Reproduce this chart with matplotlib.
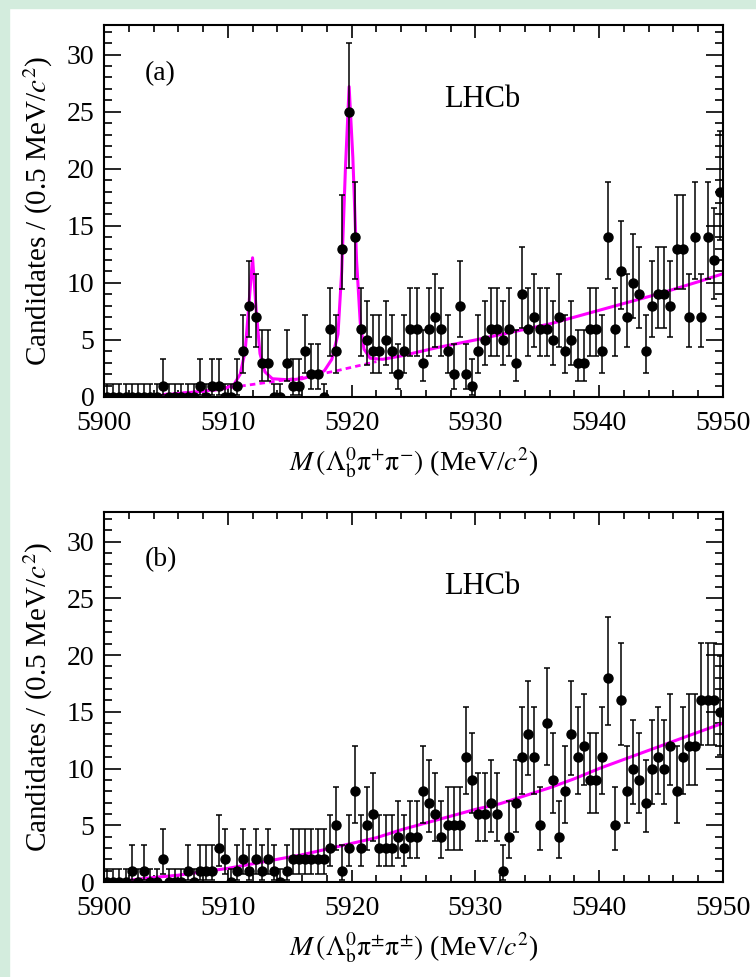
import numpy as np
import matplotlib
matplotlib.use('Agg')
import matplotlib.pyplot as plt
from matplotlib.ticker import MultipleLocator
from matplotlib.patches import Rectangle

plt.rcParams['font.family'] = ['Liberation Serif', 'DejaVu Serif']
plt.rcParams['mathtext.fontset'] = 'stix'

# mass range and binning (0.5 MeV bins)
m_lo, m_hi, nbins = 5900., 5950., 100

# candidates per bin, panel (a): Lb pi+ pi-
counts_a = [0, 0, 0, 0, 0, 0, 0, 0, 0, 1,
            0, 0, 0, 0, 0, 1, 0, 1, 1, 0,
            0, 1, 4, 8, 7, 3, 3, 0, 0, 3,
            1, 1, 4, 2, 2, 0, 6, 4, 13, 25,
            14, 6, 5, 4, 4, 5, 4, 2, 4, 6,
            6, 3, 6, 7, 6, 4, 2, 8, 2, 1,
            4, 5, 6, 6, 5, 6, 3, 9, 6, 7,
            6, 6, 5, 7, 4, 5, 3, 3, 6, 6,
            4, 14, 6, 11, 7, 10, 9, 4, 8, 9,
            9, 8, 13, 13, 7, 14, 7, 14, 12, 18]

# panel (b): Lb pi+- pi+- (wrong sign)
counts_b = [0, 0, 0, 0, 1, 0, 1, 0, 0, 2,
            0, 0, 0, 1, 0, 1, 1, 1, 3, 2,
            0, 1, 2, 1, 2, 1, 2, 1, 0, 1,
            2, 2, 2, 2, 2, 2, 3, 5, 1, 3,
            8, 3, 5, 6, 3, 3, 3, 4, 3, 4,
            4, 8, 7, 6, 4, 5, 5, 5, 11, 9,
            6, 6, 7, 6, 1, 4, 7, 11, 13, 11,
            5, 14, 9, 4, 8, 13, 11, 12, 9, 9,
            11, 18, 5, 16, 8, 10, 9, 7, 10, 11,
            10, 12, 8, 11, 12, 12, 16, 16, 16, 15]

# fit curves
tot_a_m = [5900, 5904, 5906, 5908, 5910, 5910.5, 5911.0, 5911.4, 5911.7, 5912.0,
           5912.3, 5912.6, 5913.0, 5913.6, 5915.0, 5916.0, 5917.0, 5917.8, 5918.4,
           5918.9, 5919.2, 5919.5, 5919.8, 5920.1, 5920.4, 5920.7, 5921.0, 5921.5,
           5922.5, 5924, 5927, 5930, 5933, 5936, 5939, 5942, 5945, 5948, 5950]
tot_a_y = [0, 0.05, 0.3, 0.5, 0.85, 1.1, 2.0, 4.0, 8.0, 12.2,
           7.5, 3.8, 2.2, 1.6, 1.5, 1.6, 1.9, 2.3, 3.3,
           5.5, 11, 20, 27.2, 21, 12, 6.5, 4.2, 3.4,
           3.3, 3.6, 4.35, 5.0, 5.7, 6.4, 7.3, 8.2, 9.1, 10.1, 10.8]
bkg_a_m = [5904, 5905, 5907, 5909, 5911, 5913, 5915, 5917, 5919, 5921, 5922]
bkg_a_y = [0.0, 0.25, 0.4, 0.6, 0.95, 1.25, 1.55, 1.9, 2.35, 2.85, 3.1]

bkg_b_m = [5900, 5902, 5904, 5906, 5908, 5910, 5912, 5914, 5916, 5918, 5920, 5922, 5924,
           5926, 5928, 5930, 5932, 5934, 5936, 5938, 5940, 5942, 5944, 5946, 5948, 5950]
bkg_b_y = [0.0, 0.15, 0.4, 0.6, 0.9, 1.2, 1.6, 2.0, 2.4, 2.9, 3.4, 3.9, 4.6,
           5.2, 5.8, 6.4, 6.9, 7.6, 8.3, 9.1, 10.0, 10.8, 11.6, 12.4, 13.2, 14.0]

xlabels = [r'$M\,(\Lambda_{\rm b}^{0}\mathrm{\pi}^{+}\mathrm{\pi}^{-})$ (MeV/$c^{2}$)',
           r'$M\,(\Lambda_{\rm b}^{0}\mathrm{\pi}^{\pm}\mathrm{\pi}^{\pm})$ (MeV/$c^{2}$)']
tags = ['(a)', '(b)']


def poisson_err(n):
    # central 68% Poisson interval (Wilson-Hilferty approx), 1.148 for empty bins
    n = np.asarray(n, dtype=float)
    lo = np.zeros_like(n)
    hi = np.full_like(n, 1.148)
    k = 2 * n[n > 0]
    lo[n > 0] = 0.5 * k * (1 - 2 / (9 * k) - np.sqrt(2 / (9 * k)))**3
    k = 2 * n[n > 0] + 2
    hi[n > 0] = 0.5 * k * (1 - 2 / (9 * k) + np.sqrt(2 / (9 * k)))**3
    return [n - lo, hi - n]


edges = np.linspace(m_lo, m_hi, nbins + 1)
centres = 0.5 * (edges[1:] + edges[:-1])

fig = plt.figure(figsize=(7.56, 9.77), dpi=100)
fig.patches.append(Rectangle((0, 0), 9 / 756, 1, transform=fig.transFigure,
                             color='#d3ecdd', zorder=0))
fig.patches.append(Rectangle((0, 1 - 8 / 977), 1, 8 / 977, transform=fig.transFigure,
                             color='#d3ecdd', zorder=0))

ax_a = fig.add_axes([104 / 756, 1 - 397 / 977, 619 / 756, 372 / 977])
ax_b = fig.add_axes([104 / 756, 1 - 882 / 977, 619 / 756, 370 / 977])

for i, (ax, counts) in enumerate([(ax_a, counts_a), (ax_b, counts_b)]):
    if i == 0:
        ax.plot(bkg_a_m, bkg_a_y, color='magenta', lw=2.0, ls=(0, (2, 1.5)), zorder=2)
        ax.plot(tot_a_m, tot_a_y, color='magenta', lw=2.2, zorder=2)
    else:
        ax.plot(bkg_b_m, bkg_b_y, color='magenta', lw=2.2, zorder=2)
    ax.errorbar(centres, counts, yerr=poisson_err(counts), fmt='o', color='black',
                ms=6.5, elinewidth=1.1, capsize=2, capthick=1.1, zorder=3)

    ax.set_xlim(m_lo, m_hi)
    ax.set_ylim(0, 32.6)
    ax.xaxis.set_major_locator(MultipleLocator(10))
    ax.xaxis.set_minor_locator(MultipleLocator(2))
    ax.yaxis.set_major_locator(MultipleLocator(5))
    ax.yaxis.set_minor_locator(MultipleLocator(1))
    ax.tick_params(which='both', direction='in', top=True, right=True,
                   labelsize=20, width=1.2)
    ax.tick_params(axis='x', which='major', length=9, pad=10)
    ax.tick_params(axis='x', which='minor', length=5)
    ax.tick_params(axis='y', which='major', length=12, pad=7)
    ax.tick_params(axis='y', which='minor', length=6)
    for s in ax.spines.values():
        s.set_linewidth(1.5)

    ax.set_ylabel(r'Candidates / (0.5 MeV/$c^{2}$)', fontsize=21, labelpad=8)
    ax.set_xlabel(xlabels[i], fontsize=20, labelpad=7)
    ax.text(0.066, 0.87, tags[i], transform=ax.transAxes, fontsize=20, va='center')
    ax.text(0.55, 0.80, 'LHCb', transform=ax.transAxes, fontsize=22, va='center')

fig.savefig('out.png', dpi=100)
